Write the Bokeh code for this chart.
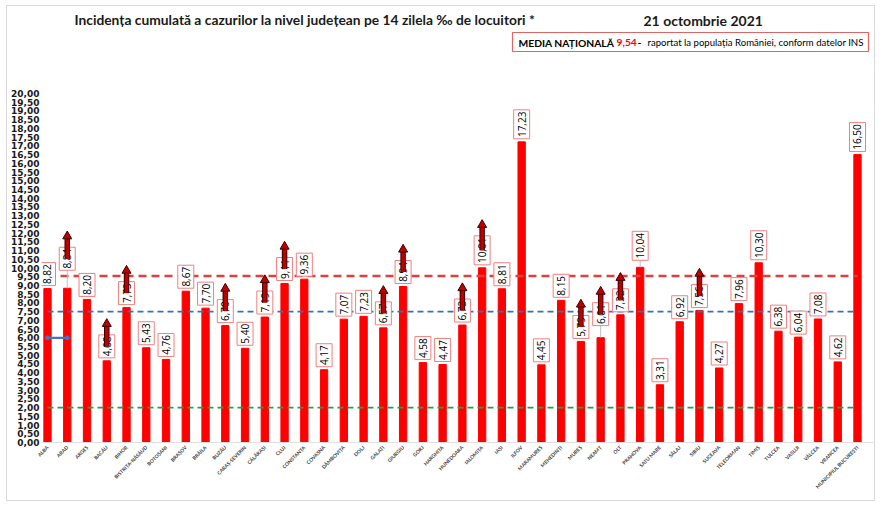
import math
from bokeh.plotting import figure
from bokeh.models import Range1d, FixedTicker, Label, LabelSet, ColumnDataSource
from bokeh.core.properties import value
from bokeh.embed import file_html
from bokeh.resources import INLINE

# ---------------- data ----------------
counties = ["ALBA", "ARAD", "ARGEȘ", "BACĂU", "BIHOR", "BISTRIȚA-NĂSĂUD", "BOTOȘANI",
            "BRAȘOV", "BRĂILA", "BUZĂU", "CARAȘ-SEVERIN", "CĂLĂRAȘI", "CLUJ", "CONSTANȚA",
            "COVASNA", "DÂMBOVIȚA", "DOLJ", "GALAȚI", "GIURGIU", "GORJ", "HARGHITA",
            "HUNEDOARA", "IALOMIȚA", "IAȘI", "ILFOV", "MARAMUREȘ", "MEHEDINȚI", "MUREȘ",
            "NEAMȚ", "OLT", "PRAHOVA", "SATU MARE", "SĂLAJ", "SIBIU", "SUCEAVA",
            "TELEORMAN", "TIMIȘ", "TULCEA", "VASLUI", "VÂLCEA", "VRANCEA",
            "MUNICIPIUL BUCUREȘTI"]
incidence = [8.82, 8.84, 8.20, 4.68, 7.73, 5.43, 4.76, 8.67, 7.70, 6.70, 5.40, 7.19,
             9.11, 9.36, 4.17, 7.07, 7.23, 6.57, 8.94, 4.58, 4.47, 6.73, 10.01, 8.81,
             17.23, 4.45, 8.15, 5.79, 6.01, 7.32, 10.04, 3.31, 6.92, 7.56, 4.27, 7.96,
             10.30, 6.38, 6.04, 7.08, 4.62, 16.50]
rising = ["ARAD", "BACĂU", "BIHOR", "BUZĂU", "CĂLĂRAȘI", "CLUJ", "GALAȚI", "GIURGIU",
          "HUNEDOARA", "IALOMIȚA", "MUREȘ", "NEAMȚ", "OLT", "SIBIU"]
national_avg = 9.54
threshold_high = 7.5
threshold_low = 2.0
marker_level = 6.0
marker_counties = ["ALBA", "ARAD"]
y_ticks = [round(0.5 * i, 2) for i in range(41)]

title_text = "Incidența cumulată a cazurilor la nivel județean pe 14 zilela ‰ de locuitori *"
date_text = "21 octombrie 2021"
legend_bold = "MEDIA NAȚIONALĂ"
legend_rest = "raportat la populația României, conform datelor INS"

# ---------------- layout ----------------
W, H = 869, 496
OX, OY = 7, 6                            # canvas origin in the page (after margin + border)
PX_X = 19.756                            # px per category step
PX_Y = 17.45                             # px per data unit
X0_IMG, Y0_IMG = 47, 442                 # page position of first bar / zero line
FL, FR, FT = 41 - OX, 3, 0
FB = H - (Y0_IMG - OY)
frame_h = H - FT - FB
Y_END = frame_h / PX_Y
X_START = -((X0_IMG - OX - FL) / PX_X)
X_END = X_START + (W - FL - FR) / PX_X
px2u = 1 / PX_Y
label_lift_px = {"ARAD": 15, "NEAMȚ": 9, "PRAHOVA": 4}

def fmt(v):
    return f"{v:.2f}".replace(".", ",")

def dx(img_x):      # page x -> data x (for header annotations)
    return (img_x - X0_IMG) / PX_X

def dy(img_y):      # page y -> data y
    return (Y0_IMG - img_y) / PX_Y

xs = list(range(len(counties)))

p = figure(width=W, height=H, output_backend="svg", toolbar_location=None,
           x_range=Range1d(X_START, X_END), y_range=Range1d(0, Y_END),
           min_border_left=FL, min_border_right=FR, min_border_top=FT,
           min_border_bottom=FB, background_fill_color="white",
           border_fill_color="white")
p.outline_line_color = None
p.xgrid.grid_line_color = None
p.ygrid.grid_line_color = None
p.styles = {"border": "1px solid #D9D9D9", "margin": "5px 0px 0px 6px"}

# axes
p.yaxis.ticker = FixedTicker(ticks=y_ticks)
p.yaxis.major_label_overrides = {t: fmt(t) for t in y_ticks}
p.yaxis.axis_line_color = None
p.yaxis.major_tick_line_color = None
p.yaxis.minor_tick_line_color = None
p.yaxis.major_tick_out = 0
p.yaxis.major_label_standoff = 2
p.yaxis.major_label_text_font = "DejaVu Sans"
p.yaxis.major_label_text_font_style = "bold"
p.yaxis.major_label_text_font_size = "9px"
p.yaxis.major_label_text_color = "#1A1A1A"

p.xaxis.ticker = FixedTicker(ticks=xs)
p.xaxis.major_label_overrides = {i: c for i, c in enumerate(counties)}
p.xaxis.major_label_orientation = math.pi / 4
p.xaxis.axis_line_color = "#E0E0E0"
p.xaxis.major_tick_line_color = None
p.xaxis.minor_tick_line_color = None
p.xaxis.major_tick_out = 0
p.xaxis.major_label_standoff = 4
p.xaxis.major_label_text_font = "Lato"
p.xaxis.major_label_text_font_style = "bold"
p.xaxis.major_label_text_font_size = "5px"
p.xaxis.major_label_text_color = "#404040"

# bars
p.vbar(x=xs, top=incidence, width=0.37, color="#FF0000")

# reference lines
p.line([0, len(counties) - 1], [national_avg] * 2, line_color="#E0403C",
       line_width=2.6, line_dash="8 5")
p.line([0, len(counties) - 1], [threshold_high] * 2, line_color="#2E75B6",
       line_width=1.8, line_dash="6 4")
p.line([0, len(counties) - 1], [threshold_low] * 2, line_color="#1FA34A",
       line_width=1.8, line_dash="6 4")
mx = [counties.index(c) for c in marker_counties]
p.line(mx, [marker_level] * len(mx), line_color="#4472C4", line_width=2.2)
p.scatter(mx, [marker_level] * len(mx), size=4, color="#4472C4")

# data labels
lab = dict(x=[], yc=[], h=[], txt=[])
for i, (c, v) in enumerate(zip(counties, incidence)):
    t = fmt(v)
    h = 6 * len(t) - 1
    lift = label_lift_px.get(c, 0)
    lab["x"].append(i)
    lab["yc"].append(v + (3 + lift + h / 2) * px2u)
    lab["h"].append(h)
    lab["txt"].append(t)
src = ColumnDataSource(lab)

lx = [i for i, c in enumerate(counties) if c in label_lift_px]
p.segment(x0=lx, y0=[incidence[i] for i in lx], x1=lx,
          y1=[incidence[i] + (3 + label_lift_px[counties[i]]) * px2u for i in lx],
          line_color="#BFBFBF", line_width=1)

p.rect(x="x", y="yc", width=16, height="h", width_units="screen", height_units="screen",
       source=src, fill_color="white", line_color="#F08080", line_width=1)
p.add_layout(LabelSet(x="x", y="yc", text="txt", source=src, angle=90,
                      angle_units="deg", text_align="center", text_baseline="middle",
                      text_font_size=value("10px"), text_font=value("Open Sans"),
                      text_color="#000000"))

# rising arrows
ax, ay0, ay1, ah = [], [], [], []
for i, c in enumerate(counties):
    if c in rising:
        yc = lab["yc"][i]
        top = yc + lab["h"][i] / 2 * px2u
        tip = top + 15 * px2u
        ax.append(i)
        ay0.append(yc)
        ay1.append(tip - 6 * px2u)
        ah.append(tip - 4 * px2u)
p.segment(x0=ax, y0=ay0, x1=ax, y1=ay1, line_color="#3A0000",
          line_width=5.5, level="overlay")
p.segment(x0=ax, y0=ay0, x1=ax, y1=ay1, line_color="#C00000",
          line_width=3.5, level="overlay")
p.scatter(ax, ah, marker="triangle", size=9, fill_color="#C00000",
          line_color="#3A0000", line_width=1, level="overlay")

# header (data coordinates inside the extended frame)
p.add_layout(Label(x=dx(74), y=dy(19), text=title_text, text_font="Lato",
                   text_font_style="bold", text_font_size="13.8px", text_color="#1A1A1A",
                   text_baseline="middle", text_align="left"))
p.add_layout(Label(x=dx(643), y=dy(20), text=date_text, text_font="Lato",
                   text_font_style="bold", text_font_size="14px", text_color="#1A1A1A",
                   text_baseline="middle", text_align="left"))
p.quad(left=[dx(512)], right=[dx(868)], top=[dy(32)], bottom=[dy(51)],
       fill_color="white", line_color="#E06666", line_width=1.2)
p.add_layout(Label(x=dx(518), y=dy(42), text=legend_bold, text_font="Lato",
                   text_font_style="bold", text_font_size="10.3px", text_color="#000000",
                   text_baseline="middle", text_align="left"))
p.add_layout(Label(x=dx(616), y=dy(42), text=fmt(national_avg), text_font="Lato",
                   text_font_style="bold", text_font_size="10.3px", text_color="#FF0000",
                   text_baseline="middle", text_align="left"))
p.add_layout(Label(x=dx(637), y=dy(42), text="-", text_font="Lato",
                   text_font_style="bold", text_font_size="10.3px", text_color="#000000",
                   text_baseline="middle", text_align="left"))
p.add_layout(Label(x=dx(647), y=dy(42), text=legend_rest, text_font="Lato",
                   text_font_size="9.6px", text_color="#000000",
                   text_baseline="middle", text_align="left"))

open("out.html", "w").write(file_html(p, INLINE))
